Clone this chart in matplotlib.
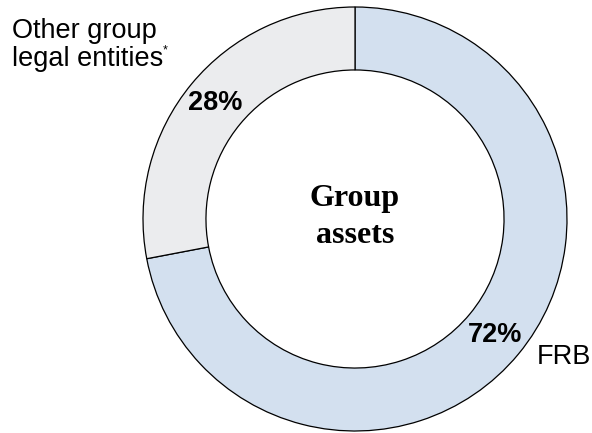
import matplotlib.pyplot as plt

# data
segments = ['FRB', 'Other group legal entities']
shares = [72, 28]
colours = ['#d3e0ef', '#ebecee']
centre_title = 'Group\nassets'

plt.rcParams['font.family'] = ['Liberation Sans', 'DejaVu Sans']

W, H = 592, 433
fig = plt.figure(figsize=(W / 100, H / 100), dpi=100)
ax = fig.add_axes([0, 0, 1, 1])

R = 212.0
cx, cy = 355.0, 219.0


def px(x, y):
    # pixel position -> data coords (outer radius = 1)
    return (x - cx) / R, (cy - y) / R


wedges, _, pcts = ax.pie(shares, colors=colours, startangle=90, counterclock=False,
                         radius=1.0, autopct='%d%%', pctdistance=0.855,
                         wedgeprops=dict(width=0.297, edgecolor='black', linewidth=0.9),
                         textprops=dict(fontsize=19.5, fontweight='bold', color='black'))

ax.set_xlim(-cx / R, (W - cx) / R)
ax.set_ylim(-(H - cy) / R, cy / R)
ax.set_aspect('equal')
ax.axis('off')

# centre title
ax.text(0, 0.008, centre_title, ha='center', va='center', fontsize=23,
        fontweight='bold', family='Liberation Serif', linespacing=1.35)

# outside labels
ax.text(*px(537, 357), segments[0], ha='left', va='center', fontsize=19.5)
ax.text(*px(12, 45), 'Other group\nlegal entities', ha='left', va='center',
        fontsize=19.5, linespacing=1.15)
ax.text(*px(163, 50), '*', ha='left', va='center', fontsize=9)

fig.savefig('out.png', dpi=100)
